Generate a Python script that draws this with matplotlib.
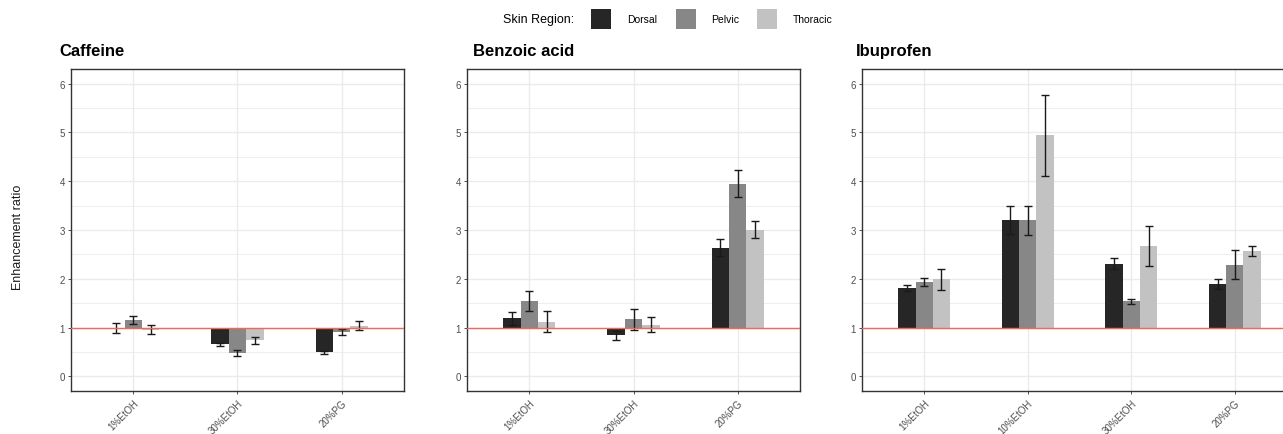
import matplotlib
matplotlib.use("Agg")
import matplotlib.pyplot as plt
from matplotlib.patches import Rectangle
import numpy as np

plt.rcParams['font.family'] = ['Liberation Sans', 'DejaVu Sans']

regions = ["Dorsal", "Pelvic", "Thoracic"]
colors = ["#262626", "#878787", "#c2c2c2"]

caf_cats = ["1%EtOH", "30%EtOH", "20%PG"]
caf_dorsal = [0.99, 0.66, 0.49]
caf_dorsal_err = [0.11, 0.03, 0.03]
caf_pelvic = [1.16, 0.48, 0.91]
caf_pelvic_err = [0.08, 0.06, 0.07]
caf_thoracic = [0.96, 0.74, 1.04]
caf_thoracic_err = [0.10, 0.07, 0.09]

ben_cats = ["1%EtOH", "30%EtOH", "20%PG"]
ben_dorsal = [1.19, 0.84, 2.64]
ben_dorsal_err = [0.13, 0.10, 0.18]
ben_pelvic = [1.55, 1.17, 3.95]
ben_pelvic_err = [0.20, 0.22, 0.27]
ben_thoracic = [1.12, 1.06, 3.01]
ben_thoracic_err = [0.22, 0.16, 0.18]

ibu_cats = ["1%EtOH", "10%EtOH", "30%EtOH", "20%PG"]
ibu_dorsal = [1.81, 3.20, 2.31, 1.90]
ibu_dorsal_err = [0.07, 0.29, 0.11, 0.10]
ibu_pelvic = [1.94, 3.20, 1.54, 2.29]
ibu_pelvic_err = [0.08, 0.30, 0.05, 0.30]
ibu_thoracic = [1.99, 4.94, 2.68, 2.57]
ibu_thoracic_err = [0.21, 0.83, 0.41, 0.11]

panels = [
    ("Caffeine", caf_cats, [caf_dorsal, caf_pelvic, caf_thoracic],
     [caf_dorsal_err, caf_pelvic_err, caf_thoracic_err]),
    ("Benzoic acid", ben_cats, [ben_dorsal, ben_pelvic, ben_thoracic],
     [ben_dorsal_err, ben_pelvic_err, ben_thoracic_err]),
    ("Ibuprofen", ibu_cats, [ibu_dorsal, ibu_pelvic, ibu_thoracic],
     [ibu_dorsal_err, ibu_pelvic_err, ibu_thoracic_err]),
]

W, H = 1283, 435
fig = plt.figure(figsize=(W / 100, H / 100), dpi=100)

# axes pixel boxes (left, top, right, bottom)
boxes = [(71, 70, 404, 392), (467, 70, 800, 392), (862, 70, 1297, 392)]
title_x = [59, 473, 856]

baseline = 1.0
bw = 0.5 / 3

for (title, cats, vals, errs), (l, t, r, b), tx in zip(panels, boxes, title_x):
    ax = fig.add_axes([l / W, (H - b) / H, (r - l) / W, (b - t) / H])
    n = len(cats)
    x = np.arange(1, n + 1)
    ax.set_xlim(0.4, n + 0.6)
    ax.set_ylim(-0.3, 6.3)
    ax.set_yticks(range(0, 7))
    ax.set_yticks(np.arange(0.5, 6.5, 1.0), minor=True)
    ax.set_xticks(x)
    ax.set_xticklabels(cats, rotation=45, ha="right", rotation_mode="anchor",
                       fontsize=7, color="#4d4d4d")
    ax.tick_params(axis="y", labelsize=7, labelcolor="#4d4d4d", length=2.5,
                   color="#333333", width=0.6, pad=2)
    ax.tick_params(axis="x", length=2.5, color="#333333", width=0.6, pad=2)
    ax.tick_params(which="minor", length=0)
    ax.grid(True, which="major", color="#ebebeb", linewidth=1.0)
    ax.grid(True, which="minor", axis="y", color="#ebebeb", linewidth=0.6)
    ax.set_axisbelow(True)
    for sp in ax.spines.values():
        sp.set_color("#333333")
        sp.set_linewidth(1.0)
    for i, (v, e, c) in enumerate(zip(vals, errs, colors)):
        pos = x + (i - 1) * bw
        heights = np.array(v) - baseline
        ax.bar(pos, heights, width=bw, bottom=baseline, color=c, zorder=2)
        ax.errorbar(pos, v, yerr=e, fmt="none", ecolor="#1a1a1a",
                    elinewidth=1.0, capsize=3, capthick=1.0, zorder=3)
    ax.axhline(1.0, color="#EA6A5E", linewidth=1.0, zorder=4)
    fig.text(tx / W, 1 - 52 / H, title, fontsize=12, fontweight="bold",
             ha="left", va="center")

fig.text(18 / W, 1 - 237 / H, "Enhancement ratio", rotation=90,
         fontsize=9, ha="center", va="center", color="#1a1a1a")

# legend
fig.text(503 / W, 1 - 20 / H, "Skin Region:", fontsize=9, ha="left",
         va="center")
key_x = [591, 676, 757]
lab_x = [627, 711, 793]
for kx, lx, c, name in zip(key_x, lab_x, colors, regions):
    fig.patches.append(Rectangle((kx / W, 1 - 30 / H), 20 / W, 20 / H,
                                 transform=fig.transFigure, facecolor=c,
                                 edgecolor="none"))
    fig.text(lx / W, 1 - 20 / H, name, fontsize=7.5, ha="left", va="center")

fig.savefig("out.png", dpi=100)
